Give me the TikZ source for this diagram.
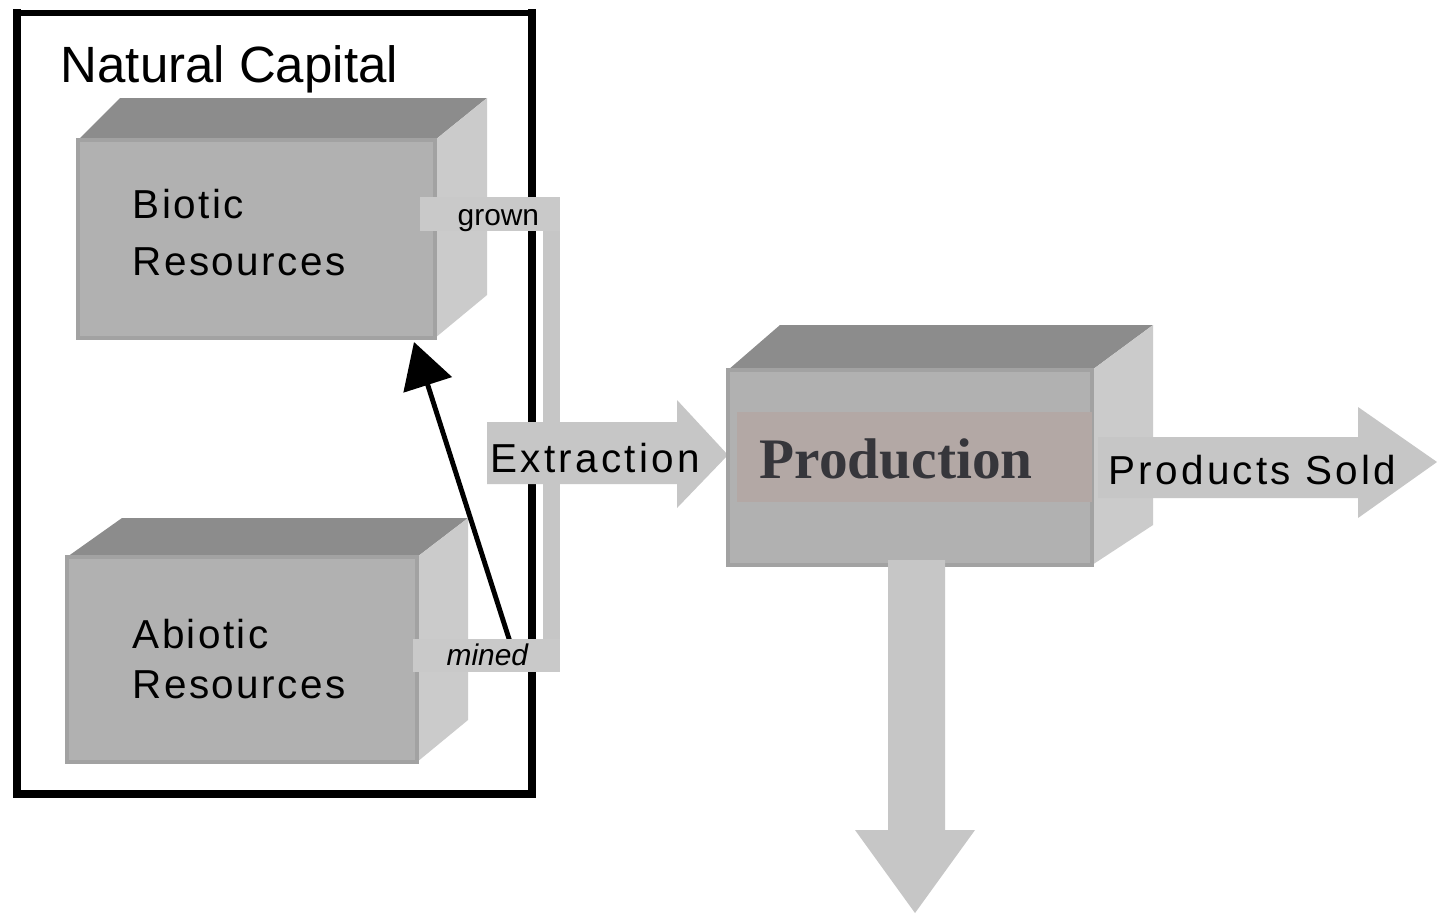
\documentclass[tikz,border=0pt]{standalone}
\usepackage{fontspec}
\setmainfont{Liberation Sans}
\newfontfamily\serifbf{Liberation Serif}
\newfontfamily\spacedsans[LetterSpace=6]{Liberation Sans}
\newfontfamily\widesans[LetterSpace=8]{Liberation Sans}
\usetikzlibrary{arrows.meta}
\definecolor{topc}{HTML}{8C8C8C}
\definecolor{frontc}{HTML}{B1B1B1}
\definecolor{edgec}{HTML}{A2A2A2}
\definecolor{sidec}{HTML}{CBCBCB}
\definecolor{flowc}{HTML}{C6C6C6}
\definecolor{tabc}{HTML}{C9C9C9}
\definecolor{bandc}{HTML}{B3A8A5}
\definecolor{prodtext}{HTML}{36363B}
\tikzset{
  lbl/.style={inner sep=0pt, anchor=base west, text=black},
  toplbl/.style={lbl, font=\fontsize{14.5}{17}\selectfont},
  boxlbl/.style={lbl, font=\spacedsans\fontsize{11.5}{14}\selectfont},
  flowlbl/.style={lbl, font=\widesans\fontsize{11.5}{14}\selectfont},
  smalllbl/.style={lbl, font=\fontsize{8.5}{10}\selectfont},
  topface/.style={fill=topc},
  frontface/.style={fill=frontc, draw=edgec, line width=1.2pt},
  sideface/.style={fill=sidec},
  flow/.style={fill=flowc},
  tab/.style={fill=tabc},
  framestyle/.style={draw=black, line cap=rect},
  pointer/.style={draw=black, line width=1.4pt, -{Triangle[length=12.8pt,width=14.2pt]}}
}
\begin{document}
\begin{tikzpicture}[x=0.01cm,y=-0.01cm]
\useasboundingbox[fill=white] (0,0) rectangle (1437,915);

% frame
\coordinate (ftl) at (17,13);
\coordinate (ftr) at (532,13);
\coordinate (fbr) at (532,794);
\coordinate (fbl) at (17,794);
\draw[framestyle, line width=1.6pt] (ftl) -- (ftr);
\draw[framestyle, line width=2.4pt] (ftr) -- (fbr) -- (fbl) -- (ftl);

\node[toplbl] (nc) at (60,82) {Natural Capital};

% bracket strip
\fill[fill=flowc] (543,197) rectangle (560,672);

% Biotic box
\fill[topface] (78,140) -- (120,98) -- (487,98) -- (435,140) -- cycle;
\fill[sideface] (435,140) -- (487,98) -- (487,295) -- (435,338) -- cycle;
\filldraw[frontface] (78,140) rectangle (435,338);
\node[boxlbl] (bio1) at (132,218) {Biotic};
\node[boxlbl] (bio2) at (132,275) {Resources};

% Abiotic box
\fill[topface] (67,557) -- (122,518) -- (468,518) -- (417,557) -- cycle;
\fill[sideface] (417,557) -- (468,518) -- (468,720) -- (417,762) -- cycle;
\filldraw[frontface] (67,557) rectangle (417,762);
\node[boxlbl] (abio1) at (132,648) {Abiotic};
\node[boxlbl] (abio2) at (132,698) {Resources};

% pointer from mined to biotic
\coordinate (mtail) at (511,645);
\coordinate (btip) at (414,342);
\draw[pointer] (mtail) -- (btip);

% tabs
\fill[tab] (420,197) rectangle (560,231);
\node[smalllbl] (grown) at (457,225) {grown};
\fill[tab] (413,639) rectangle (560,672);
\node[smalllbl, font=\itshape\fontsize{8.5}{10}\selectfont] (mined) at (446,665) {mined};

% Extraction arrow
\fill[flow] (487,422) -- (677,422) -- (677,400) -- (728,455) -- (677,508) -- (677,484) -- (487,484) -- cycle;
\node[flowlbl] (extr) at (490,472) {Extraction};

% Production box
\fill[topface] (728,370) -- (780,325) -- (1153,325) -- (1092,370) -- cycle;
\fill[sideface] (1092,370) -- (1153,325) -- (1153,525) -- (1092,565) -- cycle;
\filldraw[frontface] (728,370) rectangle (1092,565);
\fill[bandc] (737,412) rectangle (1092,502);
\node[inner sep=0pt, anchor=base west, text=prodtext, font=\serifbf\bfseries\fontsize{16.3}{19}\selectfont] (prod) at (759,478) {Production};

% Products Sold arrow
\fill[flow] (1098,437) -- (1358,437) -- (1358,407) -- (1437,462) -- (1358,518) -- (1358,498) -- (1098,498) -- cycle;
\node[flowlbl] (sold) at (1108,484) {Products Sold};

% downward arrow
\fill[flow] (888,560) -- (945,560) -- (945,830) -- (975,830) -- (915,913) -- (855,830) -- (888,830) -- cycle;
\end{tikzpicture}
\end{document}
